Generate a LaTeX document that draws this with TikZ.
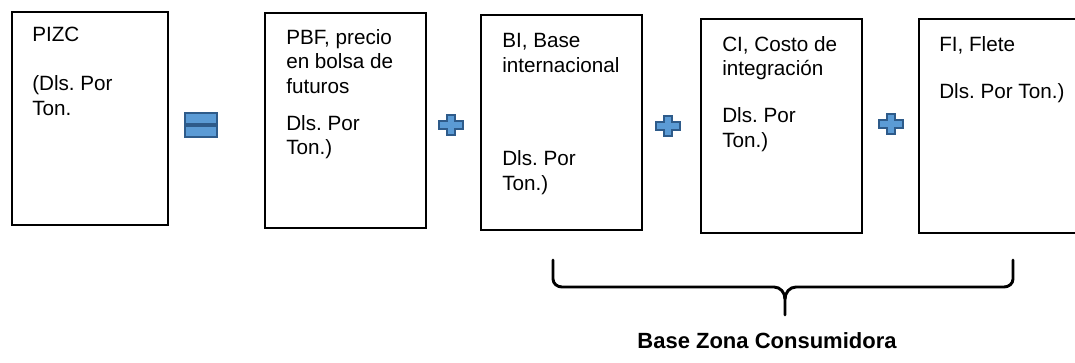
\documentclass[tikz,border=0pt]{standalone}
\usepackage{fontspec}
\setmainfont{Liberation Sans}
\frenchspacing

\definecolor{azulsigno}{HTML}{5B9BD5}
\definecolor{bordesigno}{HTML}{2E5B8A}

\tikzset{
  caja/.style={line width=1.4pt, draw=black},
  texto/.style={anchor=north west, inner sep=0pt, align=left,
    font=\fontsize{15.5}{18.4}\selectfont},
  signo/.style={fill=azulsigno, draw=bordesigno, line width=1.2pt},
  llave/.style={line width=2.2pt, line cap=round, line join=round},
}

\begin{document}
\begin{tikzpicture}[x=0.75pt, y=-0.75pt]
    % Marco de la figura
    \useasboundingbox (0,0) rectangle (1075,363);
    \clip (0,0) rectangle (1075,363);

    % Dibujar las cajas de la suma
    \draw[caja] (12,12) rectangle (168,225);
    \draw[caja] (265,13) rectangle (426,228);
    \draw[caja] (481,15) rectangle (642,230);
    \draw[caja] (701,19) rectangle (862,233);
    \draw[caja] (919,19) rectangle (1090,233);

    % Textos de cada caja
    \node[texto] (pizc) at (32,27) {PIZC\\[18.4pt](Dls. Por\\Ton.};
    \node[texto] (pbf) at (286,29) {PBF, precio\\en bolsa de\\futuros\\[9.4pt]Dls. Por\\Ton.)};
    \node[texto] (bi) at (502,33) {BI, Base\\internacional\\[52pt]Dls. Por\\Ton.)};
    \node[texto] (ci) at (722,36) {CI, Costo de\\integraci\'on\\[17pt]Dls. Por\\Ton.)};
    \node[texto] (fi) at (939,36) {FI, Flete\\[17pt]Dls. Por Ton.)};

    % Signo igual
    \draw[signo] (185,113) rectangle (217,124);
    \draw[signo] (185,126) rectangle (217,137);

    % Signos mas
    \foreach \cx/\cy in {451/125, 668/126, 891/124} {
      \begin{scope}[shift={(\cx,\cy)}]
        \draw[signo] (-12,-4) -- (-4,-4) -- (-4,-10) -- (4,-10) -- (4,-4)
          -- (12,-4) -- (12,4) -- (4,4) -- (4,10) -- (-4,10) -- (-4,4)
          -- (-12,4) -- cycle;
      \end{scope}
    }

    % Llave bajo las tres ultimas cajas
    \draw[llave] (553,260) -- (553,279) to[out=-90,in=180] (562,287)
      -- (774,287) to[out=0,in=90] (785,299) -- (785,315);
    \draw[llave] (1013,260) -- (1013,279) to[out=-90,in=0] (1004,287)
      -- (796,287) to[out=180,in=90] (785,299);

    % Etiqueta de la llave
    \node (bzc) at (767,341) {\fontsize{16.5}{20}\selectfont\bfseries Base Zona Consumidora};

  \end{tikzpicture}
\end{document}
